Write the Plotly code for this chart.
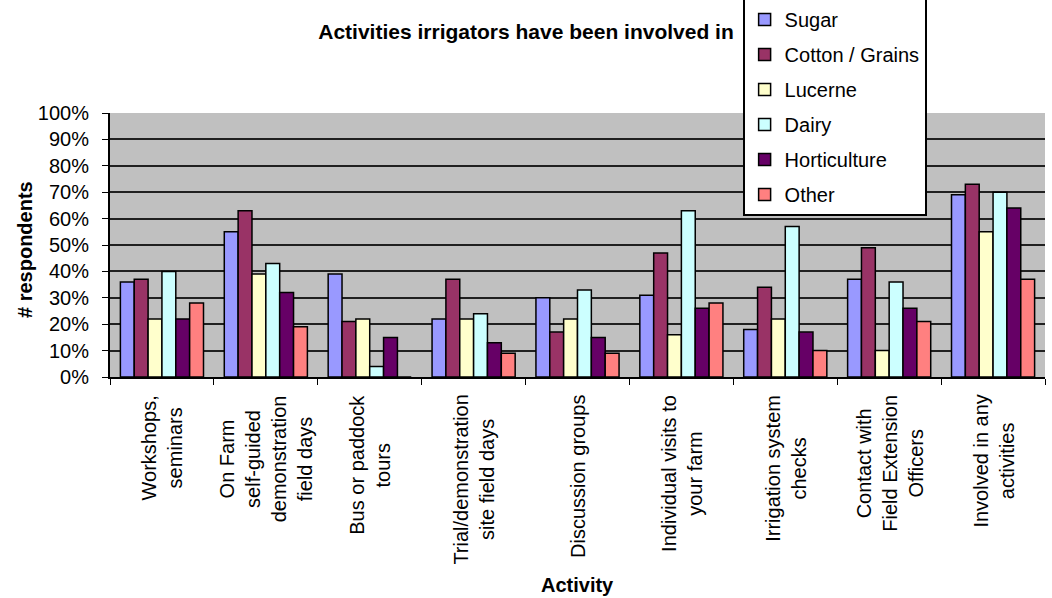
import plotly.graph_objects as go

# Survey activities (category keys) and their wrapped axis labels
activities = [
    "Workshops, seminars",
    "On Farm self-guided demonstration field days",
    "Bus or paddock tours",
    "Trial/demonstration site field days",
    "Discussion groups",
    "Individual visits to your farm",
    "Irrigation system checks",
    "Contact with Field Extension Officers",
    "Involved in any activities",
]
activity_labels = [
    "Workshops,<br>seminars",
    "On Farm<br>self-guided<br>demonstration<br>field days",
    "Bus or paddock<br>tours",
    "Trial/demonstration<br>site field days",
    "Discussion groups",
    "Individual visits to<br>your farm",
    "Irrigation system<br>checks",
    "Contact with<br>Field Extension<br>Officers",
    "Involved in any<br>activities",
]

# % of respondents per industry
sugar = [36, 55, 39, 22, 30, 31, 18, 37, 69]
cotton_grains = [37, 63, 21, 37, 17, 47, 34, 49, 73]
lucerne = [22, 39, 22, 22, 22, 16, 22, 10, 55]
dairy = [40, 43, 4, 24, 33, 63, 57, 36, 70]
horticulture = [22, 32, 15, 13, 15, 26, 17, 26, 64]
other = [28, 19, 0, 9, 9, 28, 10, 21, 37]

series_names = ["Sugar", "Cotton / Grains", "Lucerne", "Dairy", "Horticulture", "Other"]
series_values = [sugar, cotton_grains, lucerne, dairy, horticulture, other]
series_colors = ["#9999FF", "#993366", "#FFFFCC", "#CCFFFF", "#660066", "#FF8080"]

FONT = "Arial, Liberation Sans, sans-serif"

fig = go.Figure()
for i, (name, vals, col) in enumerate(zip(series_names, series_values, series_colors)):
    fig.add_trace(go.Bar(
        name=name,
        x=activities,
        y=vals,
        marker=dict(color=col, line=dict(color="black", width=1.5)),
        legendgroup=f"g{i}",
    ))

annotations = []
for key, lab in zip(activities, activity_labels):
    annotations.append(dict(
        x=key, xref="x", y=0, yref="paper", yshift=-16,
        text=lab, textangle=-90, xanchor="center", yanchor="top",
        align="center", showarrow=False,
        font=dict(family=FONT, size=20, color="black"),
    ))
annotations.append(dict(
    x=0.5, xref="paper", y=0, yref="paper", yshift=-208,
    text="<b>Activity</b>", showarrow=False, xanchor="center", yanchor="middle",
    font=dict(family=FONT, size=20, color="black"),
))
annotations.append(dict(
    x=0, xref="paper", xshift=-85, y=0.481, yref="paper",
    text="<b># respondents</b>", textangle=-90, showarrow=False,
    xanchor="center", yanchor="middle",
    font=dict(family=FONT, size=20, color="black"),
))

fig.update_layout(
    width=1052, height=598,
    margin=dict(l=110, r=7, t=113, b=221, autoexpand=False),
    paper_bgcolor="white",
    plot_bgcolor="#c0c0c0",
    barmode="group",
    bargap=0.2,
    bargroupgap=0,
    font=dict(family=FONT, size=20, color="black"),
    title=dict(
        text="<b>Activities irrigators have been involved in</b>",
        x=0.5, xref="container", xanchor="center",
        y=0.9465, yref="container", yanchor="middle",
        font=dict(family=FONT, size=21, color="black"),
    ),
    legend=dict(
        x=0.6766, y=1.4356, xanchor="left", yanchor="top",
        bgcolor="white", bordercolor="black", borderwidth=2,
        font=dict(family=FONT, size=20, color="black"),
        tracegroupgap=6,
        itemwidth=30,
    ),
    annotations=annotations,
    showlegend=True,
)
fig.update_xaxes(
    type="category",
    showticklabels=False,
    showline=True, linecolor="black", linewidth=2,
    ticks="outside", ticklen=6, tickcolor="black", tickson="boundaries",
    showgrid=False,
)
fig.update_yaxes(
    range=[0, 100], dtick=10, ticksuffix="%",
    showline=True, linecolor="black", linewidth=2,
    ticks="outside", ticklen=6, tickcolor="black",
    ticklabelstandoff=9,
    showgrid=True, gridcolor="#202020", gridwidth=2,
    zeroline=False,
    tickfont=dict(family=FONT, size=20, color="black"),
)

fig.write_html("out.html")
